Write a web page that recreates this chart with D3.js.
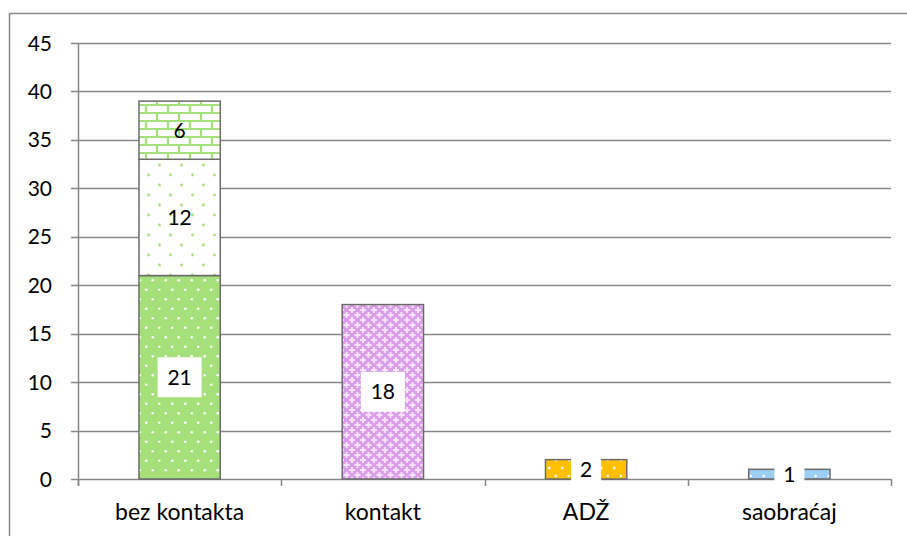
<!DOCTYPE html>
<html>
<head>
<meta charset="utf-8">
<script src="https://cdn.jsdelivr.net/npm/d3@7"></script>
<style>
  body { margin: 0; background: #fff; }
  text { font-family: Lato, "Open Sans", sans-serif; fill: #000; }
</style>
</head>
<body>
<script>
var width = 907,
    height = 536;

// data
var categories = ['bez kontakta', 'kontakt', 'ADŽ', 'saobraćaj'];
var seriesBase = [21, 18, 2, 1];
var seriesMid = [12, 0, 0, 0];
var seriesTop = [6, 0, 0, 0];
var yTicks = [0, 5, 10, 15, 20, 25, 30, 35, 40, 45];

var margin = {left: 78, right: 16, top: 43, bottom: 57};

var svg = d3.select('body').append('svg')
    .attr('width', width)
    .attr('height', height);

/* patterns */
var defs = svg.append('defs');

function dotPattern(id, bg, dot, w, h, r) {
    var p = defs.append('pattern')
        .attr('id', id)
        .attr('patternUnits', 'userSpaceOnUse')
        .attr('width', w).attr('height', h);
    p.append('rect').attr('width', w).attr('height', h).attr('fill', bg);
    p.append('circle').attr('cx', w / 4).attr('cy', h / 4).attr('r', r).attr('fill', dot);
    p.append('circle').attr('cx', w * 3 / 4).attr('cy', h * 3 / 4).attr('r', r).attr('fill', dot);
}
dotPattern('dotsGreen', '#a6e07a', '#ffffff', 13, 19, 1.3);
dotPattern('dotsWhite', '#ffffff', '#a6e07a', 22, 20, 1.4);
dotPattern('dotsOrange', '#ffc000', '#ffffff', 13, 16, 1.3);
dotPattern('dotsBlue', '#9dcff5', '#ffffff', 13, 16, 1.3);

var brick = defs.append('pattern')
    .attr('id', 'brick')
    .attr('patternUnits', 'userSpaceOnUse')
    .attr('width', 22).attr('height', 16);
brick.append('rect').attr('width', 22).attr('height', 16).attr('fill', '#ffffff');
brick.append('path')
    .attr('d', 'M0,1H22M0,9H22M3,1V9M14,9V16')
    .attr('stroke', '#a6e07a').attr('stroke-width', 2.2).attr('fill', 'none');

// violet lattice with light crosses
var plus = defs.append('pattern')
    .attr('id', 'plus')
    .attr('patternUnits', 'userSpaceOnUse')
    .attr('width', 11).attr('height', 10);
plus.append('rect').attr('width', 11).attr('height', 10).attr('fill', '#db9eeb');
[[0, 0], [11, 0], [0, 10], [11, 10], [5.5, 5]].forEach(function(c) {
    plus.append('path')
        .attr('d', 'M' + (c[0] - 3) + ',' + c[1] + 'H' + (c[0] + 3) +
                   'M' + c[0] + ',' + (c[1] - 3) + 'V' + (c[1] + 3))
        .attr('stroke', '#f6e2fa').attr('stroke-width', 2).attr('fill', 'none');
});

var baseFills = ['url(#dotsGreen)', 'url(#plus)', 'url(#dotsOrange)', 'url(#dotsBlue)'];

// outer frame
svg.append('rect')
    .attr('x', 9.5).attr('y', 13.5)
    .attr('width', 920).attr('height', 560)
    .attr('fill', 'none')
    .attr('stroke', '#868686')
    .attr('stroke-width', 1.5);

var x = d3.scaleBand()
    .domain(categories)
    .range([margin.left, width - margin.right])
    .paddingInner(0.6)
    .paddingOuter(0.3);

var xOuter = d3.scaleBand()
    .domain(categories)
    .range([margin.left, width - margin.right]);

var y = d3.scaleLinear()
    .domain([0, 45])
    .range([height - margin.bottom, margin.top]);

// gridlines
svg.append('g').selectAll('line')
    .data(yTicks)
    .enter().append('line')
    .attr('x1', margin.left - 7)
    .attr('x2', width - margin.right)
    .attr('y1', function(d) { return Math.round(y(d)) + 0.5; })
    .attr('y2', function(d) { return Math.round(y(d)) + 0.5; })
    .attr('stroke', '#868686')
    .attr('stroke-width', 1.5);

// y tick labels
svg.append('g').selectAll('text')
    .data(yTicks)
    .enter().append('text')
    .attr('x', 52)
    .attr('y', function(d) { return y(d); })
    .attr('dy', '0.36em')
    .attr('text-anchor', 'end')
    .style('font-size', '21px')
    .text(function(d) { return d; });

// y axis line
svg.append('line')
    .attr('x1', margin.left + 0.5).attr('x2', margin.left + 0.5)
    .attr('y1', y(45)).attr('y2', y(0) + 7)
    .attr('stroke', '#868686').attr('stroke-width', 1.5);

// x category ticks
var xTickPos = categories.map(function(c) { return xOuter(c); }).concat([width - margin.right]);
svg.append('g').selectAll('line')
    .data(xTickPos)
    .enter().append('line')
    .attr('x1', function(d) { return Math.round(d) + 0.5; })
    .attr('x2', function(d) { return Math.round(d) + 0.5; })
    .attr('y1', y(0))
    .attr('y2', y(0) + 7)
    .attr('stroke', '#868686').attr('stroke-width', 1.5);

// stacked data
var stackRows = categories.map(function(c, i) {
    return [
        {cat: c, y0: 0, y1: seriesBase[i], v: seriesBase[i], fill: baseFills[i], box: true},
        {cat: c, y0: seriesBase[i], y1: seriesBase[i] + seriesMid[i], v: seriesMid[i], fill: 'url(#dotsWhite)', box: false},
        {cat: c, y0: seriesBase[i] + seriesMid[i], y1: seriesBase[i] + seriesMid[i] + seriesTop[i], v: seriesTop[i], fill: 'url(#brick)', box: false}
    ];
});
var segs = [].concat.apply([], stackRows).filter(function(d) { return d.v > 0; });

svg.append('g').selectAll('rect')
    .data(segs)
    .enter().append('rect')
    .attr('x', function(d) { return x(d.cat); })
    .attr('width', x.bandwidth())
    .attr('y', function(d) { return y(d.y1); })
    .attr('height', function(d) { return y(d.y0) - y(d.y1); })
    .attr('fill', function(d) { return d.fill; })
    .attr('stroke', '#6b6b6b')
    .attr('stroke-width', 1.5);

// data labels
var labels = svg.append('g').selectAll('g')
    .data(segs)
    .enter().append('g')
    .attr('transform', function(d) {
        return 'translate(' + (x(d.cat) + x.bandwidth() / 2) + ',' + y((d.y0 + d.y1) / 2) + ')';
    });

labels.filter(function(d) { return d.box; })
    .append('rect')
    .attr('x', function(d) { return -(String(d.v).length * 14 + 16) / 2; })
    .attr('width', function(d) { return String(d.v).length * 14 + 16; })
    .attr('y', -20)
    .attr('height', 40)
    .attr('fill', '#ffffff');

labels.append('text')
    .attr('text-anchor', 'middle')
    .attr('dy', '0.36em')
    .style('font-size', '21px')
    .text(function(d) { return d.v; });

// category labels
svg.append('g').selectAll('text')
    .data(categories)
    .enter().append('text')
    .attr('x', function(d) { return xOuter(d) + xOuter.bandwidth() / 2; })
    .attr('y', 520)
    .attr('text-anchor', 'middle')
    .style('font-size', '23px')
    .text(function(d) { return d; });
</script>
</body>
</html>
